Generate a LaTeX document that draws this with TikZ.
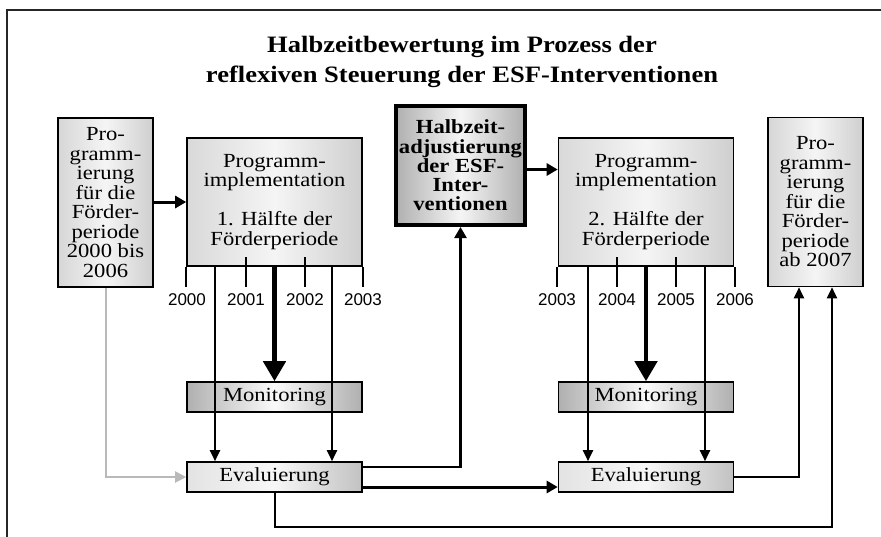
\documentclass[tikz,border=0pt]{standalone}
\usepackage{fontspec}
\setmainfont{Liberation Serif}[FakeStretch=1.13]
\newfontfamily\yearfont{Liberation Sans}
\usetikzlibrary{arrows.meta}

\tikzset{
  box/.style={draw, line width=1.6pt, align=center, inner sep=0pt,
    font=\fontsize{20}{19.5}\selectfont},
  progbox/.style={box, minimum width=95pt, minimum height=169pt,
    left color=gray!32, right color=gray!38, middle color=gray!8},
  implbox/.style={box, minimum width=175pt, minimum height=128pt,
    left color=gray!30, right color=gray!38, middle color=gray!8},
  monbox/.style={box, minimum width=175pt, minimum height=30pt,
    left color=gray!62, right color=gray!62, middle color=gray!4},
  evalbox/.style={box, minimum width=175pt, minimum height=30pt,
    left color=gray!22, right color=gray!48, middle color=gray!6},
  halbbox/.style={box, line width=4pt, minimum width=129pt, minimum height=119pt,
    font=\fontsize{20}{19.2}\selectfont\bfseries,
    left color=gray!62, right color=gray!62, middle color=gray!8},
  titel/.style={align=center, inner sep=0pt, font=\fontsize{23.5}{30}\selectfont\bfseries},
  year/.style={inner sep=0pt, font=\yearfont\fontsize{17}{17}\selectfont},
  tick/.style={line width=1.5pt},
  flow/.style={line width=3pt, -{Triangle[width=12pt,length=11pt]}},
  feed/.style={line width=2pt, -{Triangle[width=10pt,length=11pt]}},
  bigflow/.style={line width=4.5pt, -{Triangle[width=22pt,length=20pt]}},
  greyflow/.style={draw=gray!55, line width=2pt, -{Triangle[width=11pt,length=11pt]}, gray!55}
}

\begin{document}
\begin{tikzpicture}[x=1pt,y=-1pt]
\useasboundingbox (0,0) rectangle (881,536);
\draw[line width=2pt, black!85] (7,560) -- (7,10) -- (900,10);

\node[titel] (title) at (462,62) {Halbzeitbewertung im Prozess der\\reflexiven Steuerung der ESF-Interventionen};

% Kaesten
\node[progbox] (prog1) at (105.5,202.5) {Pro-\\gramm-\\ierung\\für die\\Förder-\\periode\\2000 bis\\2006};
\node[implbox] (impl1) at (274.5,202) {Programm-\\implementation\\[19.5pt]1. Hälfte der\\Förderperiode};
\node[halbbox] (halb) at (460.5,165.5) {Halbzeit-\\adjustierung\\der ESF-\\Inter-\\ventionen};
\node[implbox] (impl2) at (646,202) {Programm-\\implementation\\[19.5pt]2. Hälfte der\\Förderperiode};
\node[progbox] (prog2) at (815.5,202) {Pro-\\gramm-\\ierung\\für die\\Förder-\\periode\\ab 2007};

\node[monbox] (mon1) at (274.5,397) {Monitoring};
\node[monbox] (mon2) at (646,397) {Monitoring};
\node[evalbox] (eval1) at (274.5,477) {Evaluierung};
\node[evalbox] (eval2) at (646,477) {Evaluierung};

% Zeitachsen
\draw[tick] (186,267) -- (186,287);
\draw[tick] (246,257) -- (246,287);
\draw[tick] (305,257) -- (305,287);
\draw[tick] (363,267) -- (363,287);
\draw[tick] (557,267) -- (557,287);
\draw[tick] (617,257) -- (617,287);
\draw[tick] (676,257) -- (676,287);
\draw[tick] (735,267) -- (735,287);

\node[year] (yr1a) at (187,300) {2000};
\node[year] (yr1b) at (246,300) {2001};
\node[year] (yr1c) at (305,300) {2002};
\node[year] (yr1d) at (363,300) {2003};
\node[year] (yr2a) at (557,300) {2003};
\node[year] (yr2b) at (617,300) {2004};
\node[year] (yr2c) at (676,300) {2005};
\node[year] (yr2d) at (735,300) {2006};

% Pfeile
\coordinate (f1a) at (215,267);
\coordinate (f1b) at (332,267);
\coordinate (f2a) at (588,267);
\coordinate (f2b) at (705,267);
\coordinate (ground) at (0,527);

\draw[bigflow] (impl1.south) -- (mon1.north);
\draw[bigflow] (impl2.south) -- (mon2.north);
\draw[feed] (f1a) -- (f1a |- eval1.north);
\draw[feed] (f1b) -- (f1b |- eval1.north);
\draw[feed] (f2a) -- (f2a |- eval2.north);
\draw[feed] (f2b) -- (f2b |- eval2.north);

\draw[flow] (prog1.east |- impl1.west) -- (impl1.west);
\draw[flow] ([yshift=-4pt]halb.east) -- ([yshift=-4pt]halb.east -| impl2.west);
\draw[greyflow] (prog1.south) |- (eval1.west);
\draw[flow, line width=2.5pt] ([yshift=10pt]eval1.east) -| (halb.south);
\draw[flow] ([yshift=-10pt]eval1.east) -- ([yshift=-10pt]eval1.east -| eval2.west);
\draw[feed] (eval2.east) -| ([xshift=-16.5pt]prog2.south);
\draw[feed] (eval1.south) -- (eval1.south |- ground) -| ([xshift=16.5pt]prog2.south);
\end{tikzpicture}
\end{document}
